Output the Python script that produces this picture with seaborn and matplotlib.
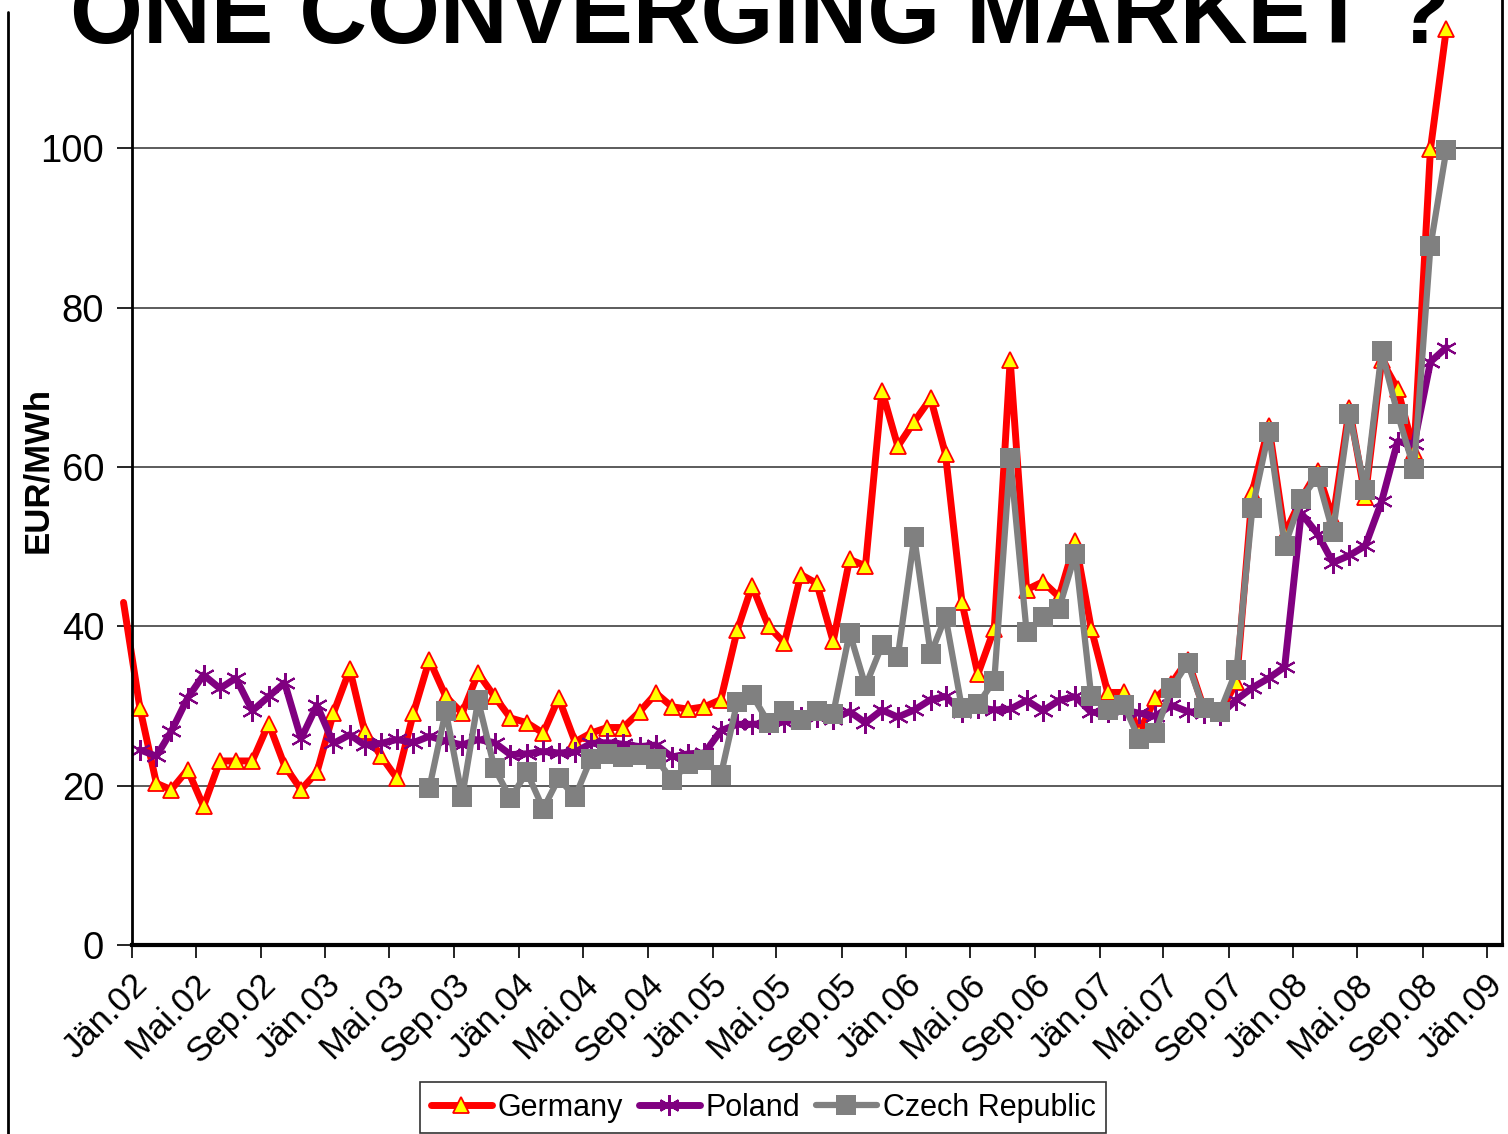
import pandas as pd
import matplotlib
matplotlib.use("Agg")
import matplotlib.pyplot as plt
import matplotlib.transforms as mtransforms
from matplotlib.lines import Line2D
import seaborn as sns

# monthly prices, EUR/MWh
germany = [43.0,
           29.7, 20.3, 19.5, 22.0, 17.4, 23.1, 23.1, 23.1, 27.8, 22.5, 19.5, 21.7,
           29.1, 34.6, 26.8, 23.7, 20.9, 29.1, 35.8, 31.2, 29.1, 34.1, 31.2, 28.5,
           27.9, 26.6, 31.0, 25.5, 26.6, 27.3, 27.3, 29.3, 31.6, 29.9, 29.6, 29.9,
           30.8, 39.5, 45.1, 40.0, 37.9, 46.5, 45.4, 38.1, 48.4, 47.6, 69.6, 62.6,
           65.7, 68.6, 61.6, 43.0, 34.0, 39.7, 73.4, 44.6, 45.6, 43.7, 50.7, 39.7,
           31.7, 31.7, 26.6, 31.0, 32.8, 35.8, 29.8, 29.2, 33.0, 56.9, 65.2, 51.6,
           56.0, 59.5, 53.5, 67.4, 56.2, 73.4, 69.8, 62.0, 99.9, 115.0]
poland = [24.5, 23.7, 26.8, 31.0, 33.9, 32.2, 33.5, 29.4, 31.2, 32.9, 25.9, 30.1,
          25.3, 26.4, 25.1, 25.3, 25.8, 25.4, 26.2, 25.6, 25.1, 25.8, 25.4, 23.9,
          24.0, 24.3, 24.1, 24.2, 25.3, 25.4, 25.2, 24.9, 25.1, 23.6, 24.0, 24.1,
          26.9, 27.7, 27.7, 27.8, 28.0, 28.6, 28.6, 28.4, 29.3, 27.9, 29.5, 28.6,
          29.5, 30.8, 31.2, 29.3, 29.8, 29.5, 29.6, 30.7, 29.4, 30.7, 31.2, 29.2,
          29.2, 29.5, 29.1, 28.7, 30.1, 29.3, 29.1, 28.9, 30.8, 32.3, 33.5, 34.9,
          54.2, 51.6, 48.0, 48.9, 50.1, 55.7, 63.2, 62.9, 73.2, 75.0]
czech = [19.7, 29.4, 18.6, 30.7, 22.2, 18.4,
         21.7, 17.1, 20.9, 18.6, 23.4, 24.0, 23.6, 23.9, 23.4, 20.7, 22.7, 23.2,
         21.3, 30.5, 31.4, 27.9, 29.4, 28.2, 29.4, 29.0, 39.2, 32.5, 37.6, 36.2,
         51.2, 36.5, 41.2, 29.7, 30.2, 33.2, 61.1, 39.3, 41.2, 42.2, 49.1, 31.2,
         29.5, 30.1, 25.9, 26.6, 32.2, 35.4, 29.7, 29.3, 34.5, 54.8, 64.4, 50.1,
         56.0, 58.8, 51.8, 66.7, 57.1, 74.5, 66.7, 59.8, 87.7, 99.8]

month_names = {1: "Jän", 5: "Mai", 9: "Sep"}

half = pd.Timedelta(days=15)
dates_de = pd.date_range("2001-12-01", periods=len(germany), freq="MS") + half
dates_pl = pd.date_range("2002-01-01", periods=len(poland), freq="MS") + half
dates_cz = pd.date_range("2003-07-01", periods=len(czech), freq="MS") + half

tick_dates = pd.date_range("2002-01-01", "2009-01-01", freq="4MS")
tick_labels = [f"{month_names[d.month]}.{d:%y}" for d in tick_dates]

sns.set_style("white")
plt.rcParams["font.family"] = ["Liberation Sans", "DejaVu Sans"]
for key in ["text.color", "axes.labelcolor", "xtick.color", "ytick.color"]:
    plt.rcParams[key] = "black"

W, H = 1508, 1134
fig = plt.figure(figsize=(W / 100, H / 100), dpi=100)
ax = fig.add_axes([132 / W, 1 - 945 / H, (1502 - 132) / W, 956 / H])

sns.lineplot(x=dates_de, y=germany, ax=ax, color="#FF0000", lw=5,
             marker="^", markersize=11.5, markerfacecolor="#FFFF00",
             markeredgecolor="#FF0000", markeredgewidth=1.3, label="Germany",
             markevery=list(range(1, len(germany))), clip_on=False)
sns.lineplot(x=dates_pl, y=poland, ax=ax, color="#800080", lw=5,
             marker=(6, 2, 0), markersize=15, markeredgecolor="#800080",
             markeredgewidth=1.5, label="Poland")
sns.lineplot(x=dates_cz, y=czech, ax=ax, color="#808080", lw=4.5,
             marker="s", markersize=14, markerfacecolor="#808080",
             markeredgecolor="#808080", markeredgewidth=0, label="Czech Republic")

ax.set_xlim(pd.Timestamp("2002-01-01"), pd.Timestamp("2009-01-29"))
ax.set_ylim(0, 120)
ax.set_yticks(range(0, 101, 20))
ax.yaxis.grid(True, color="#404040", lw=1.2)
ax.xaxis.grid(False)
ax.set_xlabel("")
ax.set_ylabel("")

ax.set_xticks(tick_dates, tick_labels, rotation=45, ha="right",
              rotation_mode="anchor", va="center")
ax.tick_params(axis="x", bottom=True, direction="out", length=9, width=1.2,
               labelsize=25, pad=16, color="black")
ax.tick_params(axis="y", left=True, direction="out", length=11, width=1.2,
               labelsize=27.5, pad=9, color="black")
shift = mtransforms.ScaledTranslation(10 / 100, 0, fig.dpi_scale_trans)
for lab in ax.get_xticklabels():
    lab.set_transform(lab.get_transform() + shift)

for side in ["left", "right", "bottom"]:
    ax.spines[side].set_color("black")
ax.spines["left"].set_linewidth(2)
ax.spines["right"].set_linewidth(2)
ax.spines["bottom"].set_linewidth(3)
ax.spines["top"].set_visible(False)

handles, labels = ax.get_legend_handles_labels()
ax.get_legend().remove()
leg = fig.legend(handles, labels, loc="upper left",
                 bbox_to_anchor=(420 / W, 1 - 1082 / H), ncol=3, fontsize=22,
                 frameon=True, fancybox=False, edgecolor="black",
                 handlelength=2.0, handletextpad=0.2, columnspacing=0.5,
                 borderpad=0.35, borderaxespad=0)
leg.get_frame().set_linewidth(1.2)

fig.text(38 / W, 1 - 470 / H, "EUR/MWh", rotation=90, fontsize=25,
         fontweight="bold", ha="center", va="center")
fig.text(760 / W, 1 - 43 / H, "ONE CONVERGING MARKET ?", fontsize=67.5,
         fontweight="bold", ha="center", va="baseline")

fig.add_artist(Line2D([8 / W, 8 / W], [0, 1 - 12 / H], color="black", lw=2))

fig.savefig("out.png", dpi=100)
